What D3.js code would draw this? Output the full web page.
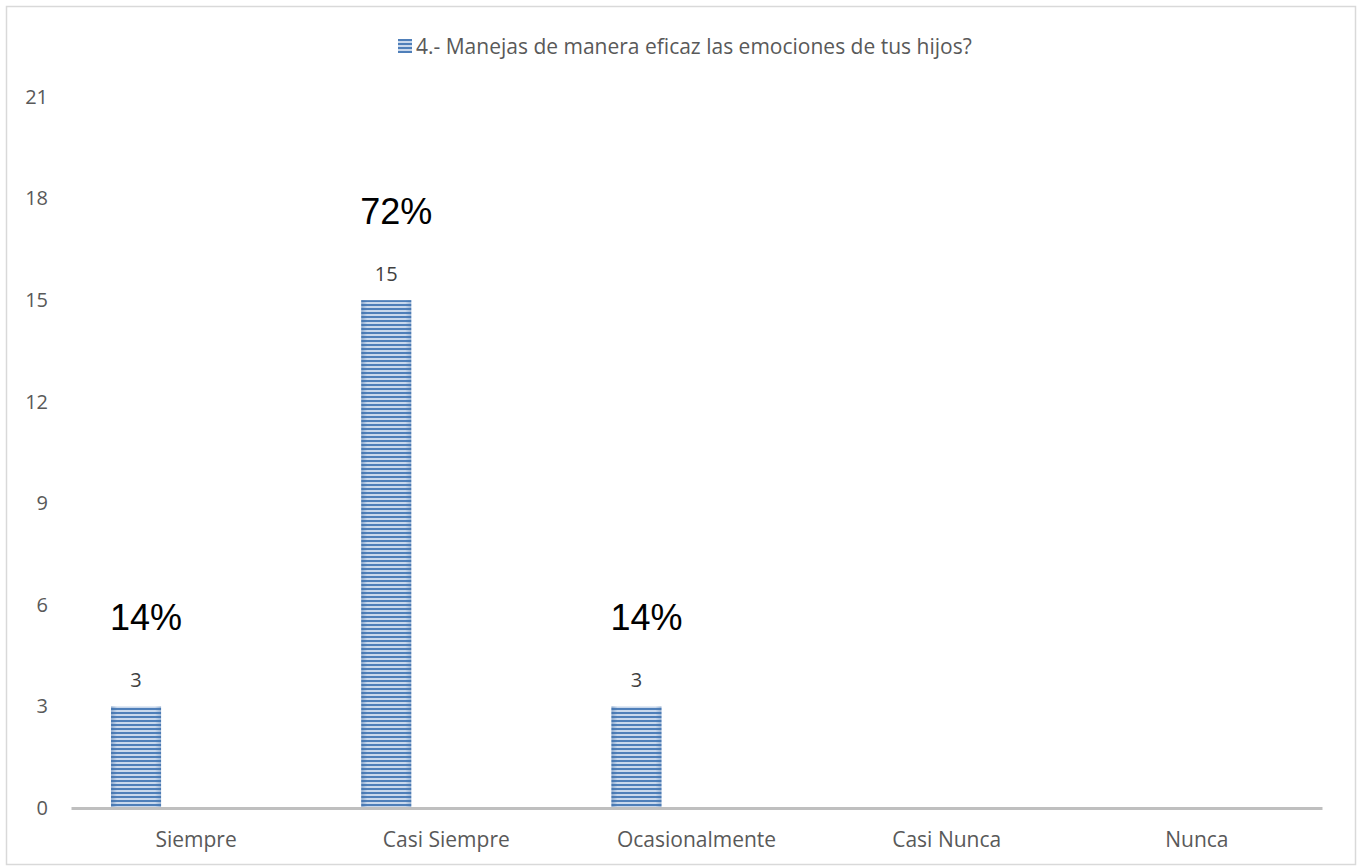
<!DOCTYPE html>
<html lang="es">
<head>
  <meta charset="UTF-8">
  <title>Gráfico</title>
  <script src="https://d3js.org/d3.v7.min.js"></script>
  <style>
    body { margin: 0; background: #fff; }
    svg { display: block; }
  </style>
</head>
<body>
<script>
  const categories = ['Siempre', 'Casi Siempre', 'Ocasionalmente', 'Casi Nunca', 'Nunca'];
  const values = [3, 15, 3, 0, 0];
  const percents = ['14%', '72%', '14%', '', ''];
  const yTicks = [0, 3, 6, 9, 12, 15, 18, 21];
  const seriesName = '4.- Manejas de manera eficaz las emociones de tus hijos?';

  const width = 1358;
  const height = 867;
  const margin = {top: 97, right: 36, bottom: 59, left: 71};
  const font = "'Open Sans', sans-serif";

  const svg = d3.select('body').append('svg')
    .attr('width', width)
    .attr('height', height);

  // border of chart area
  svg.append('rect')
    .attr('x', 6.5).attr('y', 6.5)
    .attr('width', width - 9).attr('height', height - 9)
    .attr('fill', '#fff')
    .attr('stroke', '#d9d9d9')
    .attr('stroke-width', 1.5);

  const defs = svg.append('defs');

  // striped fill like the excel pattern
  const pat = defs.append('pattern')
    .attr('id', 'stripes')
    .attr('patternUnits', 'userSpaceOnUse')
    .attr('width', 8).attr('height', 4);
  pat.append('rect').attr('width', 8).attr('height', 4).attr('fill', '#c9d8ec');
  pat.append('rect').attr('width', 8).attr('height', 2).attr('fill', '#4f7fb9');

  const shade = defs.append('linearGradient')
    .attr('id', 'shade')
    .attr('x1', '0%').attr('x2', '100%')
    .attr('y1', '0%').attr('y2', '0%');
  shade.append('stop').attr('offset', '0%').style('stop-color', '#3f6fa8').style('stop-opacity', 0.45);
  shade.append('stop').attr('offset', '12%').style('stop-color', '#3f6fa8').style('stop-opacity', 0);
  shade.append('stop').attr('offset', '88%').style('stop-color', '#3f6fa8').style('stop-opacity', 0);
  shade.append('stop').attr('offset', '100%').style('stop-color', '#3f6fa8').style('stop-opacity', 0.35);

  const x = d3.scaleBand()
    .domain(categories)
    .range([margin.left, width - margin.right])
    .padding(0);

  const y = d3.scaleLinear()
    .domain([0, 21])
    .range([height - margin.bottom, margin.top]);

  const barW = x.bandwidth() * 0.2;
  const barX = c => x(c) + x.bandwidth() * 0.16;

  // y axis labels only
  svg.append('g')
    .attr('transform', `translate(${margin.left},0)`)
    .call(d3.axisLeft(y).tickValues(yTicks).tickSize(0).tickPadding(23))
    .call(g => g.select('.domain').remove())
    .call(g => g.selectAll('text')
      .attr('fill', '#595959')
      .style('font-family', font)
      .style('font-size', '20px'));

  const bars = categories.map((c, i) => ({cat: c, value: values[i], pct: percents[i]}));

  svg.append('g').selectAll('rect')
    .data(bars.filter(d => d.value > 0))
    .join('rect')
    .attr('x', d => barX(d.cat))
    .attr('y', d => y(d.value))
    .attr('width', barW)
    .attr('height', d => y(0) - y(d.value))
    .attr('fill', 'url(#stripes)');

  svg.append('g').selectAll('rect')
    .data(bars.filter(d => d.value > 0))
    .join('rect')
    .attr('x', d => barX(d.cat))
    .attr('y', d => y(d.value))
    .attr('width', barW)
    .attr('height', d => y(0) - y(d.value))
    .attr('fill', 'url(#shade)');

  // x axis
  svg.append('g')
    .attr('transform', `translate(0,${y(0)})`)
    .call(d3.axisBottom(x).tickSize(0).tickPadding(24))
    .call(g => g.select('.domain')
      .attr('stroke', '#bfbfbf')
      .attr('stroke-width', 3))
    .call(g => g.selectAll('text')
      .attr('fill', '#595959')
      .style('font-family', font)
      .style('font-size', '21px'));

  // value labels
  svg.append('g').selectAll('text')
    .data(bars.filter(d => d.value > 0))
    .join('text')
    .attr('x', d => barX(d.cat) + barW / 2)
    .attr('y', d => y(d.value) - 19)
    .attr('text-anchor', 'middle')
    .attr('fill', '#404040')
    .style('font-family', font)
    .style('font-size', '20px')
    .text(d => d.value);

  // percentage labels
  svg.append('g').selectAll('text')
    .data(bars.filter(d => d.pct))
    .join('text')
    .attr('x', d => barX(d.cat) + barW / 2 + 10)
    .attr('y', d => y(d.value) - 76)
    .attr('text-anchor', 'middle')
    .attr('fill', '#000')
    .style('font-family', "'Liberation Sans', Arial, sans-serif")
    .style('font-size', '36px')
    .text(d => d.pct);

  // legend
  const legend = svg.append('g').attr('transform', 'translate(398,39)');
  legend.append('rect')
    .attr('width', 14).attr('height', 14)
    .attr('fill', 'url(#stripes)');
  legend.append('text')
    .attr('x', 18).attr('y', 15)
    .attr('fill', '#595959')
    .style('font-family', font)
    .style('font-size', '21px')
    .text(seriesName);
</script>
</body>
</html>
